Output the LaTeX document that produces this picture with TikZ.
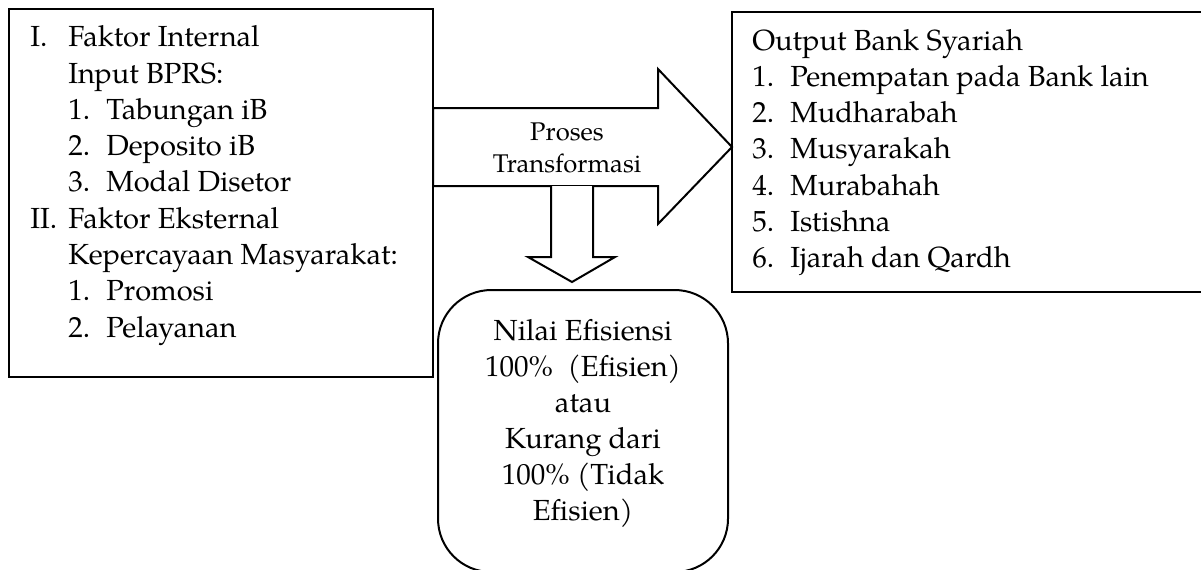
\documentclass[tikz,border=0pt]{standalone}
\usepackage{fontspec}
\setmainfont{TeX Gyre Pagella}
\begin{document}
\begin{tikzpicture}[x=0.75pt,y=-0.75pt,
  box/.style={draw,line width=1.5pt},
  txt/.style={anchor=base west,inner sep=0pt,font=\fontsize{21.8}{27}\selectfont},
  ctxt/.style={anchor=base,inner sep=0pt,font=\fontsize{21.8}{27}\selectfont},
  small/.style={anchor=base,inner sep=0pt,font=\fontsize{19.2}{24}\selectfont},
  blockarrow/.style={draw,line width=1.5pt,line join=miter,fill=white}]
\useasboundingbox (0,0) rectangle (1201,569);
\clip (0,0) rectangle (1201,569);
% left box
\draw[box] (9,9) rectangle (433,377);
\node[txt] (l1a) at (30,46.7) {I.};
\node[txt] (l1) at (68,46.7) {Faktor Internal};
\node[txt] (l2) at (68,83) {Input BPRS:};
\node[txt] (l3n) at (68,119.3) {1.};
\node[txt] (l3) at (106,119.3) {Tabungan iB};
\node[txt] (l4n) at (68,155.6) {2.};
\node[txt] (l4) at (106,155.6) {Deposito iB};
\node[txt] (l5n) at (68,191.9) {3.};
\node[txt] (l5) at (106,191.9) {Modal Disetor};
\node[txt] (l6a) at (30,228.2) {II.};
\node[txt] (l6) at (68,228.2) {Faktor Eksternal};
\node[txt] (l7) at (68,264.5) {Kepercayaan Masyarakat:};
\node[txt] (l8n) at (68,300.8) {1.};
\node[txt] (l8) at (106,300.8) {Promosi};
\node[txt] (l9n) at (68,337.1) {2.};
\node[txt] (l9) at (106,337.1) {Pelayanan};
% right box
\draw[box] (732,12) rectangle (1210,292);
\node[txt] (r0) at (752,50) {Output Bank Syariah};
\node[txt] (r1n) at (752,86.3) {1.};
\node[txt] (r1) at (790,86.3) {Penempatan pada Bank lain};
\node[txt] (r2n) at (752,122.6) {2.};
\node[txt] (r2) at (790,122.6) {Mudharabah};
\node[txt] (r3n) at (752,158.9) {3.};
\node[txt] (r3) at (790,158.9) {Musyarakah};
\node[txt] (r4n) at (752,195.2) {4.};
\node[txt] (r4) at (790,195.2) {Murabahah};
\node[txt] (r5n) at (752,231.5) {5.};
\node[txt] (r5) at (790,231.5) {Istishna};
\node[txt] (r6n) at (752,267.8) {6.};
\node[txt] (r6) at (790,267.8) {Ijarah dan Qardh};
% right block arrow
\draw[blockarrow] (433,108) -- (658,108) -- (658,69) -- (732,147) -- (658,224) -- (658,186) -- (433,186) -- cycle;
\node[small] (p1) at (567,140) {Proses};
\node[small] (p2) at (567,172) {Transformasi};
% down block arrow
\draw[blockarrow] (551,186) -- (551,257) -- (528,257) -- (572,282) -- (615,257) -- (593,257) -- (593,186);
% rounded result box
\draw[box,rounded corners=40] (438,290) rectangle (728,572);
\node[ctxt] (n1) at (583,340) {Nilai Efisiensi};
\node[ctxt] (n2) at (583,376) {100\%~~(Efisien)};
\node[ctxt] (n3) at (583,412) {atau};
\node[ctxt] (n4) at (583,448) {Kurang dari};
\node[ctxt] (n5) at (583,484) {100\% (Tidak};
\node[ctxt] (n6) at (583,520) {Efisien)};
\end{tikzpicture}
\end{document}
